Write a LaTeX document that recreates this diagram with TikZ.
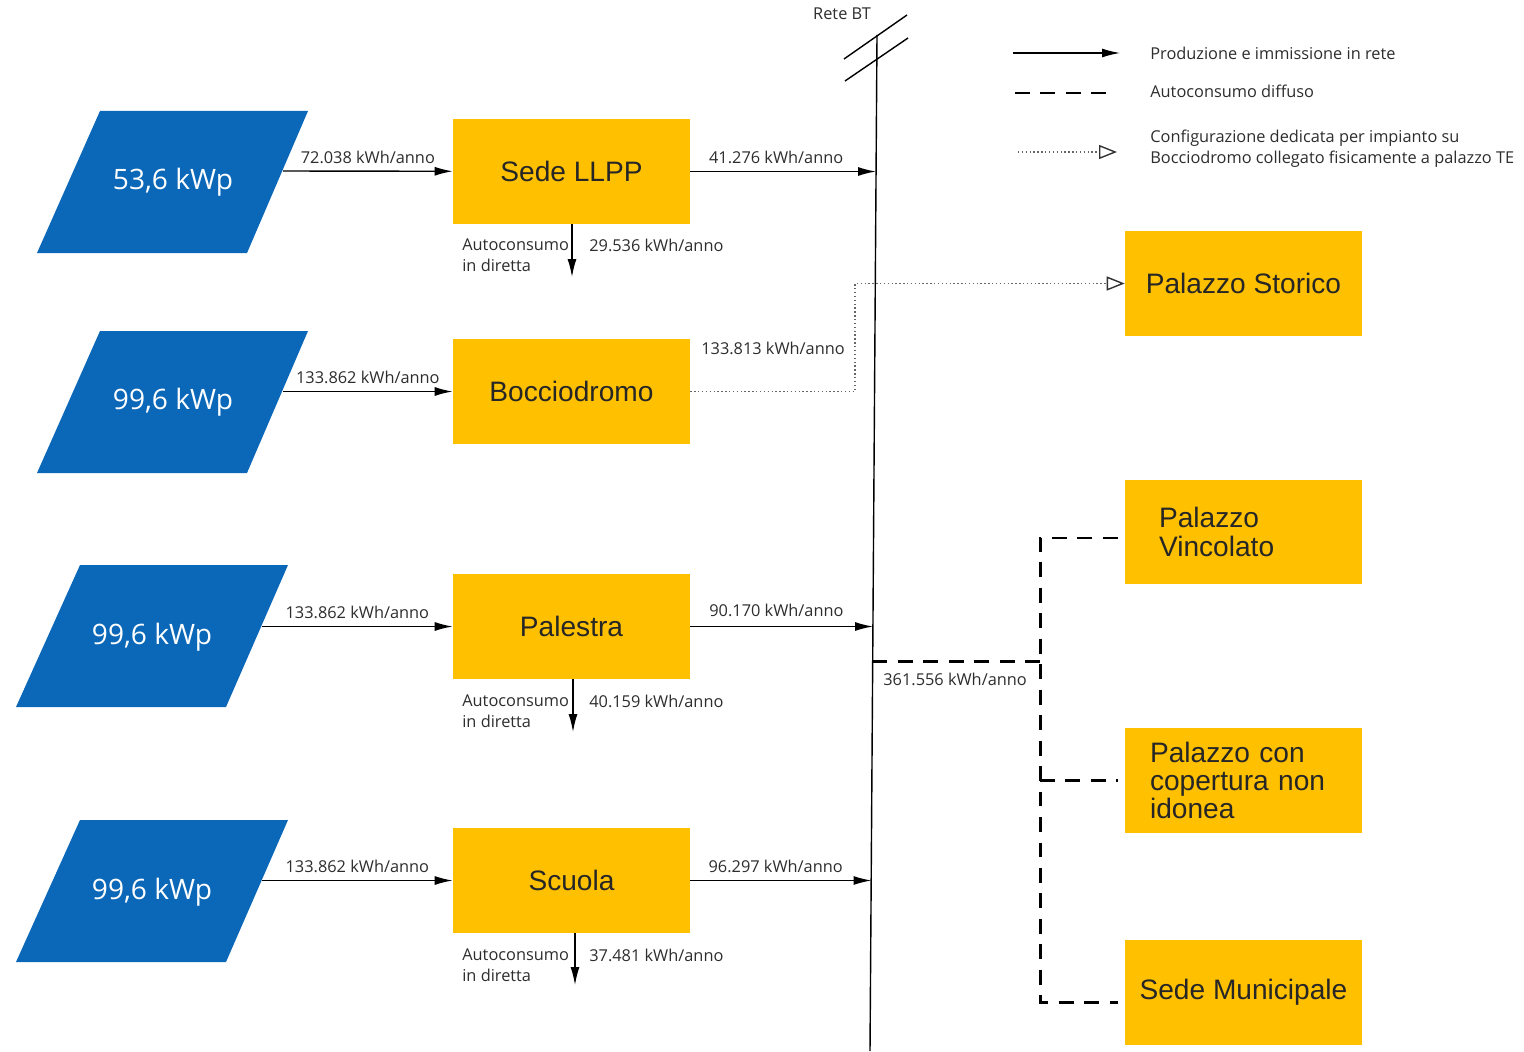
\documentclass[tikz,border=0pt]{standalone}
\usepackage{fontspec}
\setmainfont{Open Sans}
\newfontfamily\boxfont{Liberation Sans}
\usetikzlibrary{arrows.meta,calc}

\definecolor{pvblue}{RGB}{11,104,184}
\definecolor{boxyellow}{RGB}{255,192,0}
\definecolor{labelgray}{RGB}{45,45,45}

\begin{document}
\begin{tikzpicture}[x=0.02cm,y=-0.02cm,
  building/.style={fill=boxyellow,minimum width=4.74cm,minimum height=2.1cm,inner sep=0pt,
    text=black!85,font=\boxfont\fontsize{16}{16}\selectfont},
  pvtext/.style={text=white,font=\fontsize{16}{18}\selectfont},
  lbl/.style={text=labelgray,font=\fontsize{9.3}{12}\selectfont,inner sep=0pt},
  flow/.style={line width=0.8pt,-{Latex[length=0.36cm,width=0.18cm]}},
  diffuse/.style={line width=1.7pt,dash pattern=on 8.5pt off 6pt},
  dedicated/.style={line width=0.8pt,black!60,dash pattern=on 0.8pt off 1.4pt,
    -{Triangle[open,length=0.36cm,width=0.28cm,color=black!80]}}]
\useasboundingbox (0,0) rectangle (1524,1051);

% impianti fotovoltaici
\fill[pvblue] (100,111) -- (308,111) -- (247,253) -- (37,253) -- cycle;
\fill[pvblue] (100,331) -- (308,331) -- (247,473) -- (37,473) -- cycle;
\fill[pvblue] (80,565) -- (288,565) -- (226,707) -- (16,707) -- cycle;
\fill[pvblue] (80,820) -- (288,820) -- (226,962) -- (16,962) -- cycle;
\node (pv1) at (173,182) [pvtext] {53,6 kWp};
\node (pv2) at (173,402) [pvtext] {99,6 kWp};
\node (pv3) at (152,637) [pvtext] {99,6 kWp};
\node (pv4) at (152,892) [pvtext] {99,6 kWp};
\coordinate (pv1out) at (283,171);
\coordinate (pv2out) at (283,391.5);
\coordinate (pv3out) at (262,626.5);
\coordinate (pv4out) at (262,880.5);

% edifici con impianto
\node (llpp) at (571.5,171.5) [building] {Sede LLPP};
\node (boccio) at (571.5,391.5) [building] {Bocciodromo};
\node (palestra) at (571.5,626.5) [building] {Palestra};
\node (scuola) at (571.5,880.5) [building] {Scuola};

% edifici in autoconsumo
\node (storico) at (1243.5,283.5) [building] {Palazzo Storico};
\node (vincolato) at (1243.5,532) [building,text width=3.38cm,inner xsep=0.68cm,align=left] {Palazzo\\Vincolato};
\node (copertura) at (1243.5,780.5) [building,text width=3.74cm,inner xsep=0.5cm,align=left] {Palazzo con\\copertura non\\idonea};
\node (municipale) at (1243.5,992) [building] {Sede Municipale};

% rete BT
\coordinate (bustop) at (877,35);
\coordinate (busbot) at (870,1051);
\draw[line width=0.8pt] (bustop) -- (busbot);
\coordinate (tick1a) at (844,59);
\coordinate (tick1b) at (907,15);
\coordinate (tick2a) at (845,81);
\coordinate (tick2b) at (908,38);
\draw[line width=0.8pt] (tick1a) -- (tick1b);
\draw[line width=0.8pt] (tick2a) -- (tick2b);
\node (retebt) at (842,14) [lbl] {Rete BT};
\coordinate (bus1) at (876,171.5);
\coordinate (bus3) at (873,626.5);
\coordinate (bus4) at (871.5,880.5);
\coordinate (bus5) at (872.5,661);

% produzione
\draw[flow] (pv1out) -- node[lbl,above=4pt] {72.038 kWh/anno} (llpp);
\draw[flow] (pv2out) -- node[lbl,above=4pt] {133.862 kWh/anno} (boccio);
\draw[flow] (pv3out) -- node[lbl,above=4pt] {133.862 kWh/anno} (palestra);
\draw[flow] (pv4out) -- node[lbl,above=4pt] {133.862 kWh/anno} (scuola);

% immissione in rete
\draw[flow] (llpp) -- node[lbl,above=4pt,xshift=-4pt] {41.276 kWh/anno} (bus1);
\draw[flow] (palestra) -- node[lbl,above=5pt,xshift=-3pt] {90.170 kWh/anno} (bus3);
\draw[flow] (scuola) -- node[lbl,above=4pt,xshift=-3pt] {96.297 kWh/anno} (bus4);

% autoconsumo in diretta
\coordinate (ac1end) at (572,277);
\coordinate (ac3end) at (573,732);
\coordinate (ac4end) at (575,985);
\draw[flow] (llpp.south -| ac1end) -- (ac1end);
\draw[flow] (palestra.south -| ac3end) -- (ac3end);
\draw[flow] (scuola.south -| ac4end) -- (ac4end);
\node (ac1) at (462,238) [lbl,anchor=north west,align=left] {Autoconsumo\\in diretta};
\node (ac3) at (462,694) [lbl,anchor=north west,align=left] {Autoconsumo\\in diretta};
\node (ac4) at (462,948) [lbl,anchor=north west,align=left] {Autoconsumo\\in diretta};
\node (ac1v) at (589,245) [lbl,anchor=west] {29.536 kWh/anno};
\node (ac3v) at (589,701) [lbl,anchor=west] {40.159 kWh/anno};
\node (ac4v) at (589,955) [lbl,anchor=west] {37.481 kWh/anno};

% configurazione dedicata
\coordinate (dbend) at (855,391.5);
\draw[dedicated] (boccio) -- (dbend) |- (storico);
\node (dval) at (773,348) [lbl] {133.813 kWh/anno};

% autoconsumo diffuso
\coordinate (split) at (1040,661);
\draw[diffuse] (bus5) -- (split);
\draw[diffuse,shorten <=4pt,shorten >=4pt] ($(vincolato.west)+(0,6)$) -| (split) |- ($(municipale.west)+(0,10)$);
\draw[diffuse,shorten >=4pt] (copertura.west -| split) -- (copertura.west);
\node (dsum) at (883,679) [lbl,anchor=west] {361.556 kWh/anno};

% legenda
\coordinate (lg1a) at (1013,53);
\coordinate (lg1b) at (1120,53);
\coordinate (lg2a) at (1015,93);
\coordinate (lg2b) at (1115,93);
\coordinate (lg3a) at (1018,152);
\coordinate (lg3b) at (1117,152);
\draw[flow] (lg1a) -- (lg1b);
\draw[diffuse] (lg2a) -- (lg2b);
\draw[dedicated] (lg3a) -- (lg3b);
\node (lg1) at (1150,53) [lbl,anchor=west] {Produzione e immissione in rete};
\node (lg2) at (1150,91) [lbl,anchor=west] {Autoconsumo diffuso};
\node (lg3) at (1150,149) [lbl,anchor=west,align=left] {Configurazione dedicata per impianto su\\Bocciodromo collegato fisicamente a palazzo TE};
\end{tikzpicture}
\end{document}
